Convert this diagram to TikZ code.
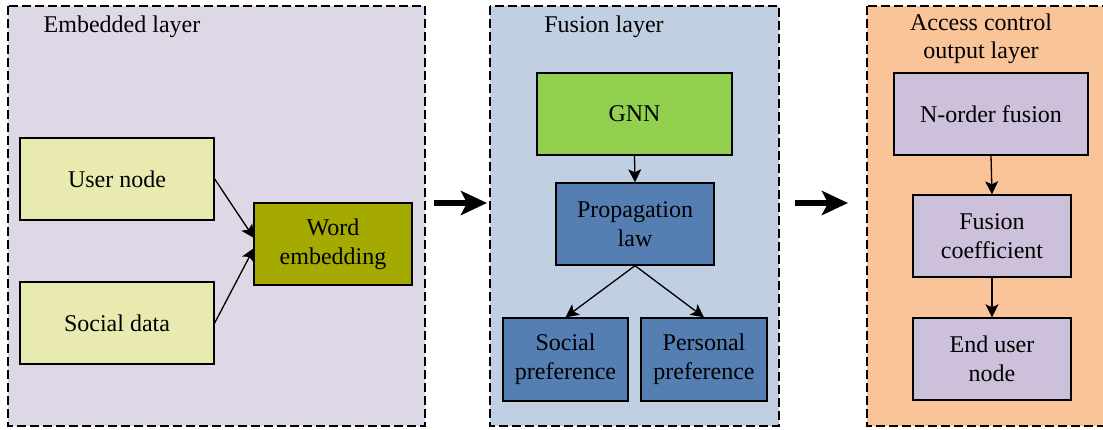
\documentclass[tikz,border=0pt]{standalone}
\usepackage{fontspec}
\setmainfont{Liberation Serif}
\usetikzlibrary{arrows.meta}
\definecolor{embbg}{RGB}{222,215,230}
\definecolor{fusbg}{RGB}{192,207,226}
\definecolor{accbg}{RGB}{248,196,152}
\definecolor{ylw}{RGB}{232,234,176}
\definecolor{olive}{RGB}{164,170,0}
\definecolor{gnn}{RGB}{146,208,80}
\definecolor{blu}{RGB}{85,126,178}
\definecolor{lav}{RGB}{204,192,218}
\tikzset{
  panel/.style={draw=black, line width=1.3pt, dash pattern=on 9pt off 4pt},
  box/.style={draw=black, line width=1.4pt, align=center, inner sep=0pt,
    font=\fontsize{24}{29}\selectfont},
  ttl/.style={align=center, font=\fontsize{24}{28}\selectfont},
  arr/.style={-{Stealth[length=13pt,width=13pt,inset=3pt]}, line width=1.3pt},
  bigarr/.style={-{Stealth[length=26pt,width=24pt,inset=6pt]}, line width=6.5pt},
}
\begin{document}
\begin{tikzpicture}[x=1pt,y=-1pt]
\useasboundingbox (0,0) rectangle (1103,430);
% panels
\filldraw[panel, fill=embbg] (8,6) rectangle (425,426);
\filldraw[panel, fill=fusbg] (490,6) rectangle (779,426);
\begin{scope}
\clip (0,0) rectangle (1103,430);
\filldraw[panel, fill=accbg] (867,6) rectangle (1115,426);
\end{scope}
% titles
\node[ttl] (t1) at (122,27) {Embedded layer};
\node[ttl] (t2) at (604,27) {Fusion layer};
\node[ttl] (t3) at (981,39) {Access control\\output layer};
% embedded layer
\node[box, fill=ylw, minimum width=194pt, minimum height=82pt] (user) at (117,179) {User node};
\node[box, fill=ylw, minimum width=194pt, minimum height=82pt] (social) at (117,323) {Social data};
\node[box, fill=olive, minimum width=158pt, minimum height=82pt] (word) at (333,244) {Word\\embedding};
\coordinate (w1) at (254,238);
\coordinate (w2) at (254,248);
\draw[arr] (user.east) -- (w1);
\draw[arr] (social.east) -- (w2);
% fusion layer
\node[box, fill=gnn, minimum width=195pt, minimum height=82pt] (gnn) at (634.5,114) {GNN};
\node[box, fill=blu, minimum width=158pt, minimum height=82pt] (prop) at (635,224) {Propagation\\law};
\node[box, fill=blu, minimum width=125pt, minimum height=83pt] (sp) at (565.5,359.5) {Social\\preference};
\node[box, fill=blu, minimum width=126pt, minimum height=83pt] (pp) at (704,359.5) {Personal\\preference};
\draw[arr] (gnn.south) -- (prop.north);
\draw[arr] (prop.south) -- (sp.north);
\draw[arr] (prop.south) -- (pp.north);
% access layer
\node[box, fill=lav, minimum width=194pt, minimum height=82pt] (nord) at (991,114) {N-order fusion};
\node[box, fill=lav, minimum width=158pt, minimum height=82pt] (fc) at (992,236) {Fusion\\coefficient};
\node[box, fill=lav, minimum width=158pt, minimum height=82pt] (eu) at (992,359) {End user\\node};
\draw[arr] (nord.south) -- (fc.north);
\draw[arr] (fc.south) -- (eu.north);
% big arrows
\coordinate (a1s) at (434,203);
\coordinate (a1e) at (487,203);
\coordinate (a2s) at (795,203);
\coordinate (a2e) at (848,203);
\draw[bigarr] (a1s) -- (a1e);
\draw[bigarr] (a2s) -- (a2e);
\end{tikzpicture}
\end{document}
